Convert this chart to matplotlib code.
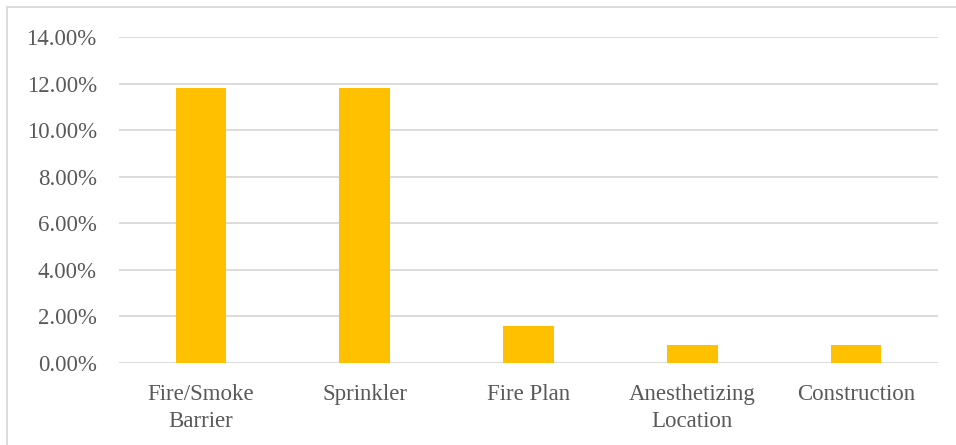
import matplotlib
matplotlib.use("Agg")
import matplotlib.pyplot as plt
from matplotlib.patches import Rectangle
from matplotlib.ticker import FuncFormatter

categories = ["Fire/Smoke\nBarrier", "Sprinkler", "Fire Plan", "Anesthetizing\nLocation", "Construction"]
shares = [0.1181, 0.1181, 0.0157, 0.0079, 0.0079]
y_ticks = [0.00, 0.02, 0.04, 0.06, 0.08, 0.10, 0.12, 0.14]

W, H = 956, 445
plt.rcParams["font.family"] = ["Liberation Serif", "DejaVu Serif"]
text_color = "#595959"
grid_color = "#D9D9D9"

fig = plt.figure(figsize=(W / 100, H / 100), dpi=100)
fig.patch.set_facecolor("white")

# outer chart frame (right and bottom edges fall outside the canvas)
fig.patches.append(Rectangle((6.5 / W, -0.05), 1.1, 1 - 7 / H + 0.05,
                             transform=fig.transFigure, fill=False,
                             edgecolor=grid_color, linewidth=1.3))

ax = fig.add_axes([119 / W, 1 - 363 / H, (938 - 119) / W, (363 - 37) / H])
x = range(len(categories))
ax.bar(x, shares, width=0.31, color="#FFC000", zorder=3)

ax.set_xlim(-0.5, len(categories) - 0.5)
ax.set_ylim(0, 0.14)
ax.set_yticks(y_ticks)
ax.yaxis.set_major_formatter(FuncFormatter(lambda v, _: f"{v * 100:.2f}%"))
ax.set_xticks(list(x))
ax.set_xticklabels(categories, linespacing=1.4)

ax.grid(axis="y", color=grid_color, linewidth=1.3, zorder=0)
for s in ax.spines.values():
    s.set_visible(False)
ax.tick_params(axis="both", length=0, labelsize=16.5, colors=text_color)
ax.tick_params(axis="y", pad=16)
ax.tick_params(axis="x", pad=15)

fig.savefig("out.png", dpi=100, facecolor="white")
